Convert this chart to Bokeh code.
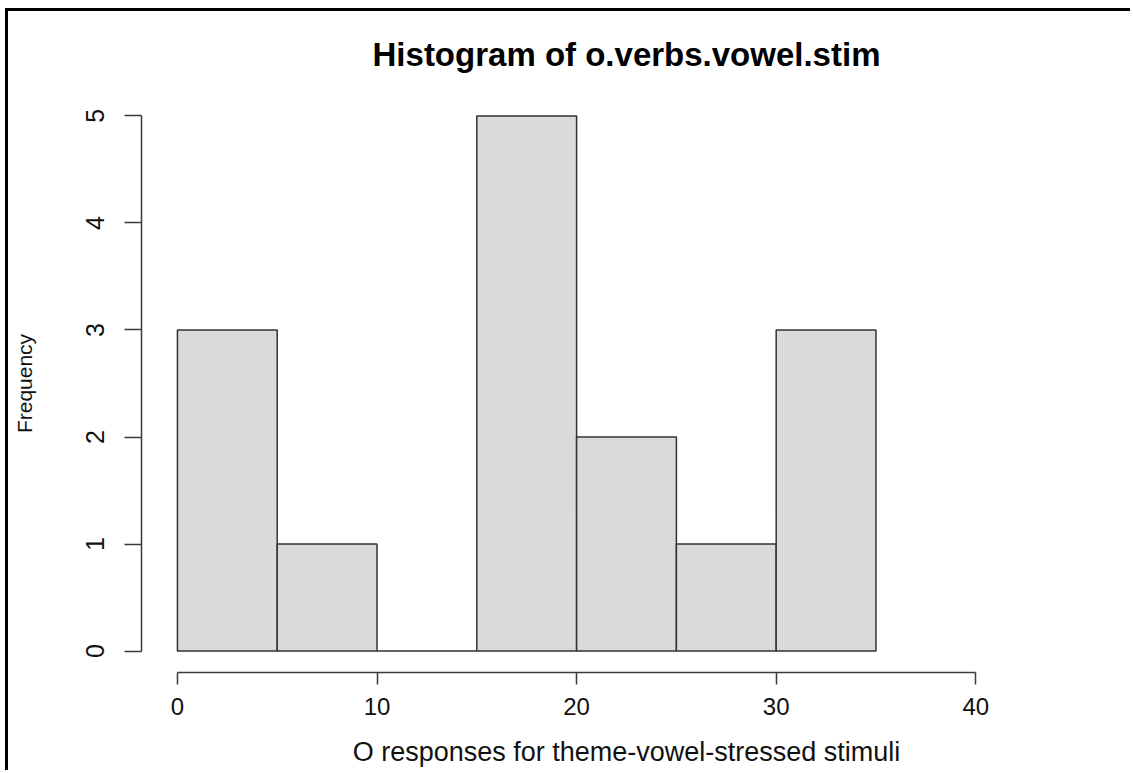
from bokeh.plotting import figure
from bokeh.models import FixedTicker, Range1d
from bokeh.embed import file_html
from bokeh.resources import INLINE

# Histogram data (bin edges and counts)
bin_edges = [0, 5, 10, 15, 20, 25, 30, 35]
counts = [3, 1, 0, 5, 2, 1, 3]
x_ticks = [0, 10, 20, 30, 40]
y_ticks = [0, 1, 2, 3, 4, 5]

title_text = "Histogram of o.verbs.vowel.stim"
x_label = "O responses for theme-vowel-stressed stimuli"
y_label = "Frequency"

FONT = "Liberation Sans"

p = figure(
    width=1125, height=762,
    x_range=Range1d(-1.8, 46.8), y_range=Range1d(-0.2, 5.2),
    output_backend="svg", toolbar_location=None,
    min_border_left=133, min_border_right=22,
    min_border_top=83, min_border_bottom=101,
)
p.styles = {
    "margin-left": "5px", "margin-top": "8px",
    "border-left": "3px solid black", "border-top": "3px solid black",
}

p.quad(left=bin_edges[:-1], right=bin_edges[1:], top=counts, bottom=0,
       fill_color="#D9DADA", line_color="#333333", line_width=1.5)

p.background_fill_color = "white"
p.border_fill_color = "white"
p.outline_line_color = None
p.xgrid.visible = False
p.ygrid.visible = False

p.title.text = title_text
p.title.align = "center"
p.title.text_font = FONT
p.title.text_font_size = "33px"
p.title.text_font_style = "bold"
p.title.text_color = "black"
p.title.standoff = 44

xa = p.xaxis[0]
xa.ticker = FixedTicker(ticks=x_ticks)
xa.bounds = (0, 40)
xa.minor_tick_line_color = None
xa.major_tick_in = 0
xa.major_tick_out = 12
xa.major_tick_line_width = 1.5
xa.major_tick_line_color = "#3a3a3a"
xa.axis_line_width = 1.5
xa.axis_line_color = "#3a3a3a"
xa.major_label_text_font = FONT
xa.major_label_text_font_size = "24px"
xa.major_label_text_color = "#111111"
xa.major_label_standoff = 13
xa.axis_label = x_label
xa.axis_label_text_font = FONT
xa.axis_label_text_font_size = "27px"
xa.axis_label_text_font_style = "normal"
xa.axis_label_text_color = "#111111"
xa.axis_label_standoff = 19

ya = p.yaxis[0]
ya.ticker = FixedTicker(ticks=y_ticks)
ya.bounds = (0, 5)
ya.minor_tick_line_color = None
ya.major_tick_in = 0
ya.major_tick_out = 17
ya.major_tick_line_width = 1.5
ya.major_tick_line_color = "#3a3a3a"
ya.axis_line_width = 1.5
ya.axis_line_color = "#3a3a3a"
ya.major_label_text_font = FONT
ya.major_label_text_font_size = "25px"
ya.major_label_text_color = "#111111"
ya.major_label_orientation = "vertical"
ya.major_label_standoff = 20
ya.axis_label = y_label
ya.axis_label_text_font = FONT
ya.axis_label_text_font_size = "21px"
ya.axis_label_text_font_style = "normal"
ya.axis_label_text_color = "#111111"
ya.axis_label_standoff = 48

open("out.html", "w").write(file_html(p, INLINE))
